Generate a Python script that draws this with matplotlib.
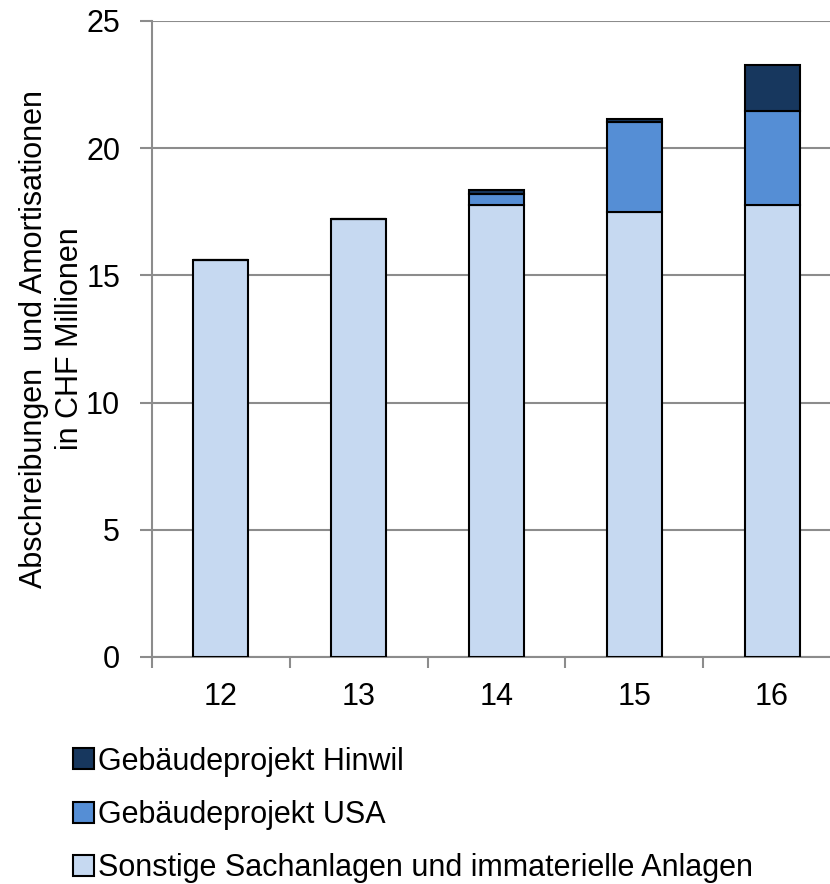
import matplotlib
matplotlib.use("Agg")
import matplotlib.pyplot as plt
import numpy as np
from matplotlib.patches import Patch

plt.rcParams['font.family'] = ['Liberation Sans', 'DejaVu Sans']

years = ["12", "13", "14", "15", "16"]
sonstige = [15.6, 17.2, 17.77, 17.49, 17.77]
usa = [0.0, 0.0, 0.42, 3.54, 3.69]
hinwil = [0.0, 0.0, 0.15, 0.12, 1.81]

labels = ["Gebäudeprojekt Hinwil", "Gebäudeprojekt USA",
          "Sonstige Sachanlagen und immaterielle Anlagen"]
colors = ["#17375E", "#558ED5", "#C6D9F1"]

fig = plt.figure(figsize=(8.3, 8.84), dpi=100)
ax = fig.add_axes([152/830, 1-657/884, (841-152)/830, (657-21)/884])

x = np.arange(len(years))
w = 0.4
ax.bar(x, sonstige, w, color=colors[2], edgecolor="black", linewidth=1.5, zorder=3)
ax.bar(x, usa, w, bottom=sonstige, color=colors[1], edgecolor="black", linewidth=1.5, zorder=3)
bot2 = np.array(sonstige) + np.array(usa)
ax.bar(x, hinwil, w, bottom=bot2, color=colors[0], edgecolor="black", linewidth=1.5, zorder=3)

ax.set_xlim(-0.5, len(years) - 0.5)
ax.set_ylim(0, 25)
ax.set_yticks([0, 5, 10, 15, 20, 25])
ax.yaxis.grid(True, color="#8c8c8c", linewidth=1.5, zorder=0)
ax.set_axisbelow(True)

ax.set_xticks(x)
ax.set_xticklabels(years)
ax.set_xticks(np.arange(-0.5, len(years), 1), minor=True)
ax.tick_params(axis="x", which="major", length=0, pad=18, labelsize=22)
ax.tick_params(axis="x", which="minor", length=8, width=1.5, color="#8c8c8c")
ax.tick_params(axis="y", length=9, width=1.5, color="#8c8c8c", labelsize=22, pad=14)

for s in ["top", "right"]:
    ax.spines[s].set_visible(False)
for s in ["left", "bottom"]:
    ax.spines[s].set_color("#8c8c8c")
    ax.spines[s].set_linewidth(1.5)

ax.set_ylabel("Abschreibungen  und Amortisationen\nin CHF Millionen", fontsize=22,
              linespacing=1.25, labelpad=1)

handles = [Patch(facecolor=c, edgecolor="black", linewidth=1.5) for c in colors]
fig.legend(handles, labels, loc="upper left", bbox_to_anchor=(0.088, 0.1555),
           frameon=False, fontsize=22, handlelength=0.68, handleheight=0.68,
           handletextpad=0.15, labelspacing=0.76, borderaxespad=0, borderpad=0)

fig.savefig("out.png", dpi=100)
